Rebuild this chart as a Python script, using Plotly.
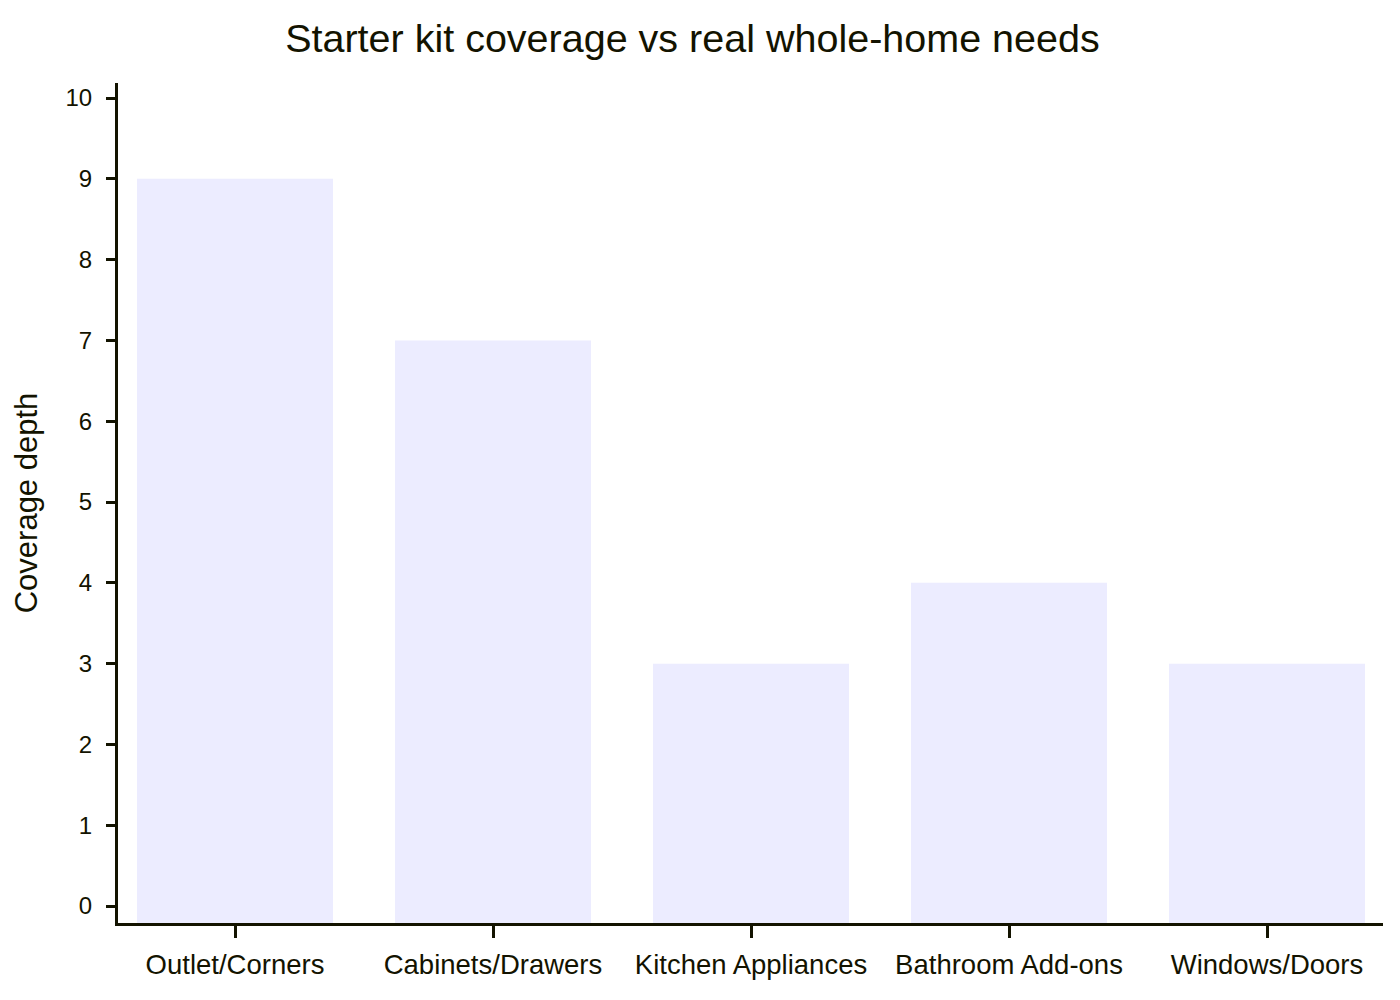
import plotly.graph_objects as go

categories = ["Outlet/Corners", "Cabinets/Drawers", "Kitchen Appliances", "Bathroom Add-ons", "Windows/Doors"]
coverage = [9, 7, 3, 4, 3]
y_ticks = [0, 1, 2, 3, 4, 5, 6, 7, 8, 9, 10]

TEXT = "#131300"
BAR = "#ECECFF"
FONT = "Liberation Sans, Arial, sans-serif"

Y_MIN, Y_MAX = -0.21, 10.186
X_MIN, X_MAX = -0.4535, 4.4496

fig = go.Figure(
    go.Bar(
        x=list(range(len(categories))),
        y=[v - Y_MIN for v in coverage],
        base=Y_MIN,
        width=0.76,
        marker=dict(color=BAR, line=dict(width=0)),
        hoverinfo="skip",
    )
)

fig.update_layout(
    width=1400,
    height=1000,
    margin=dict(l=118, r=17, t=83, b=77),
    paper_bgcolor="white",
    plot_bgcolor="white",
    showlegend=False,
    font=dict(family=FONT, color=TEXT),
    title=dict(
        text="Starter kit coverage vs real whole-home needs",
        font=dict(size=39.5, color=TEXT, family=FONT),
        x=0.4946, xref="container", xanchor="center",
        y=0.962, yref="container", yanchor="middle",
    ),
)

fig.update_xaxes(
    range=[X_MIN, X_MAX],
    tickmode="array",
    tickvals=list(range(len(categories))),
    ticktext=categories,
    showgrid=False,
    zeroline=False,
    showline=True,
    linecolor=TEXT,
    linewidth=3,
    ticks="outside",
    ticklen=12,
    tickwidth=3,
    tickcolor=TEXT,
    tickfont=dict(size=27.5, color=TEXT, family=FONT),
    ticklabelstandoff=3,
)

fig.update_yaxes(
    range=[Y_MIN, Y_MAX],
    tickmode="array",
    tickvals=y_ticks,
    ticktext=[str(t) for t in y_ticks],
    showgrid=False,
    zeroline=False,
    showline=True,
    linecolor=TEXT,
    linewidth=3,
    ticks="outside",
    ticklen=9,
    tickwidth=3,
    tickcolor=TEXT,
    tickfont=dict(size=24, color=TEXT, family=FONT),
    ticklabelstandoff=9,
    title=dict(text="Coverage depth", font=dict(size=31, color=TEXT, family=FONT), standoff=19),
)

fig.write_html("out.html")
